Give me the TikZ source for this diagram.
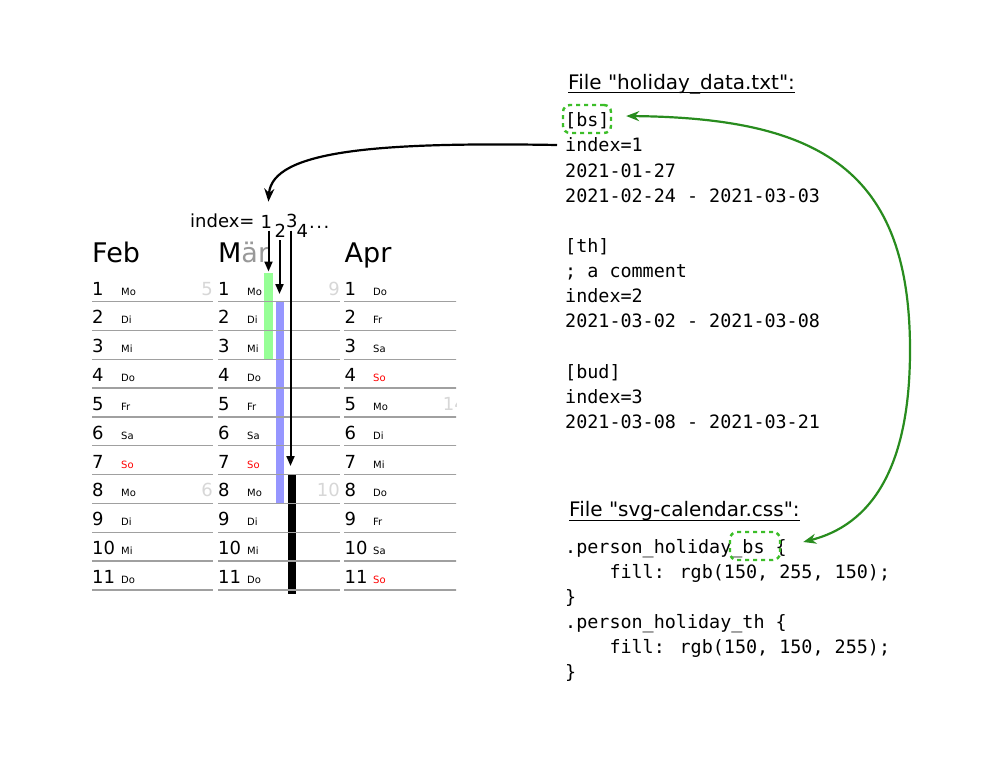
\documentclass[tikz,border=0pt]{standalone}
\usepackage{fontspec}
\setmainfont{DejaVu Sans}
\newfontfamily\monof{DejaVu Sans Mono}
\usetikzlibrary{arrows.meta}
\definecolor{hgreen}{RGB}{150,255,150}
\definecolor{hblue}{RGB}{150,150,255}
\definecolor{arrgreen}{RGB}{40,140,30}
\definecolor{boxgreen}{RGB}{60,190,40}
\definecolor{wkgray}{RGB}{215,215,215}
\definecolor{linegray}{RGB}{160,160,160}
\begin{document}
\begin{tikzpicture}[x=1pt,y=-1pt,
 daynum/.style={font=\fontsize{18}{18}\selectfont, anchor=base west, inner sep=0pt},
 wday/.style={font=\fontsize{10}{10}\selectfont, anchor=base west, inner sep=0pt},
 wdMo/.style={}, wdDi/.style={}, wdMi/.style={}, wdDo/.style={}, wdFr/.style={}, wdSa/.style={}, wdSo/.style={text=red},
 wknum/.style={font=\fontsize{18}{18}\selectfont, anchor=base east, inner sep=0pt, text=wkgray},
 month/.style={font=\fontsize{27}{27}\selectfont, anchor=base west, inner sep=0pt},
 calline/.style={draw=linegray, line width=1.4pt},
 idx/.style={font=\fontsize{18}{18}\selectfont, anchor=base west, inner sep=0pt},
 idxarr/.style={line width=2pt, -{Triangle[length=10pt,width=8pt]}, shorten <=2.5pt},
 mono/.style={font=\monof\fontsize{18.4}{18.4}\selectfont, anchor=base west, inner sep=0pt},
 ftitle/.style={font=\fontsize{20}{20}\selectfont, anchor=base west, inner sep=0pt},
 uline/.style={line width=1.3pt},
 gbox/.style={draw=boxgreen, line width=2.4pt, dash pattern=on 4pt off 4pt, rounded corners=7pt, inner sep=0pt},
 garrow/.style={draw=arrgreen, line width=2.2pt, {Stealth[length=13pt,width=10pt]}-{Stealth[length=13pt,width=10pt]}},
 barrow/.style={draw=black, line width=2.2pt, -{Stealth[length=13pt,width=10pt]}}
]
\fill[white] (0,0) rectangle (1000,761);
\useasboundingbox (0,0) rectangle (1000,761);

% month headers
\node[month] (mF) at (92,262) {Feb};
\node[month] (mM) at (218,262) {M\textcolor{black!40}{är}};
\node[month] (mA) at (344.5,262) {Apr};

\begin{scope}
\clip (80,225) rectangle (456,593.5);
% holiday bars
\fill[hgreen] (264.3,272.7) rectangle (272.7,359.2);
\fill[hblue] (276,301.5) rectangle (284.2,503.4);
\fill[black] (287.7,474.6) rectangle (295.7,610);
% rows
\foreach \r/\a/\b in {1/Mo/Do,2/Di/Fr,3/Mi/Sa,4/Do/So,5/Fr/Mo,6/Sa/Di,7/So/Mi,8/Mo/Do,9/Di/Fr,10/Mi/Sa,11/Do/So}{
  \pgfmathsetmacro\ly{301.5+28.85*(\r-1)}
  \pgfmathsetmacro\ny{\ly-6.5}
  \draw[calline] (92,\ly) -- (213,\ly);
  \draw[calline] (218,\ly) -- (340,\ly);
  \draw[calline] (344,\ly) -- (466,\ly);
  \node[daynum] (f\r) at (92,\ny) {\r};
  \node[daynum] (m\r) at (218,\ny) {\r};
  \node[daynum] (a\r) at (344.5,\ny) {\r};
  \node[wday, wd\a] (fw\r) at (121,\ny) {\a};
  \node[wday, wd\a] (mw\r) at (247,\ny) {\a};
  \node[wday, wd\b] (aw\r) at (373,\ny) {\b};
}
% week numbers
\node[wknum] (wk5) at (213,295) {5};
\node[wknum] (wk6) at (213,496.9) {6};
\node[wknum] (wk9) at (340,295) {9};
\node[wknum] (wk10) at (340,496.9) {10};
\node[wknum] (wk14) at (466,410.4) {14};
\end{scope}

% index label
\node[idx] (ix) at (190,227) {index=};
\node[idx] (d1) at (260.5,228) {1};
\node[idx] (d2) at (274.5,237.3) {2};
\node[idx] (d3) at (285.8,227.7) {3};
\node[idx] (d4) at (296.5,237.3) {4};
\node[idx] (dd) at (309,228) {.\kern1.5pt.\kern1.5pt.};
\coordinate (b1) at (268.5,271.5);
\coordinate (b2) at (279.5,294);
\coordinate (b3) at (290.5,466);
\draw[idxarr] (d1.south -| b1) -- (b1);
\draw[idxarr] (d2.south -| b2) -- (b2);
\draw[idxarr] (d3.south -| b3) -- (b3);

% holiday_data.txt
\node[ftitle] (t1) at (568,89.3) {File \textquotedbl holiday\_data.txt\textquotedbl:};
\draw[uline] ([yshift=-3.5pt]t1.base west) -- ([yshift=-3.5pt]t1.base east);
\node[mono] (l0) at (565,126.7) {[bs]};
\node[mono] (l1) at (565,151.85) {index=1};
\node[mono] (l2) at (565,177.0) {2021-01-27};
\node[mono] (l3) at (565,202.15) {2021-02-24 - 2021-03-03};
\node[mono] (l5) at (565,252.45) {[th]};
\node[mono] (l6) at (565,277.6) {; a comment};
\node[mono] (l7) at (565,302.75) {index=2};
\node[mono] (l8) at (565,327.9) {2021-03-02 - 2021-03-08};
\node[mono] (l10) at (565,378.2) {[bud]};
\node[mono] (l11) at (565,403.35) {index=3};
\node[mono] (l12) at (565,428.5) {2021-03-08 - 2021-03-21};

% svg-calendar.css
\node[ftitle] (t2) at (569,516.7) {File \textquotedbl svg-calendar.css\textquotedbl:};
\draw[uline] ([yshift=-3.5pt]t2.base west) -- ([yshift=-3.5pt]t2.base east);
\node[mono] (c1) at (565,553.3) {.person\_holiday\_bs \{};
\node[mono] (c2) at (609.3,578.3) {fill: rgb(150, 255, 150);};
\node[mono] (c3) at (565,603.3) {\}};
\node[mono] (c4) at (565,628.3) {.person\_holiday\_th \{};
\node[mono] (c5) at (609.3,653.3) {fill: rgb(150, 150, 255);};
\node[mono] (c6) at (565,678.3) {\}};

% green dashed boxes
\node[gbox, minimum width=48pt, minimum height=28pt] (bsbox) at (587,119) {};
\node[gbox, minimum width=50pt, minimum height=28pt] (cssbox) at (755,546) {};

% connectors
\draw[barrow] ([xshift=-8pt]l1.west) .. controls (380,142) and (272,150) .. ([shift={(2pt,13pt)}]d1.north);
\draw[garrow] ([shift={(14pt,3pt)}]bsbox.east) .. controls (820,118) and (910,170) .. (910,350)
   .. controls (910,470) and (870,525) .. ([shift={(22pt,4pt)}]cssbox.east);
\end{tikzpicture}
\end{document}
